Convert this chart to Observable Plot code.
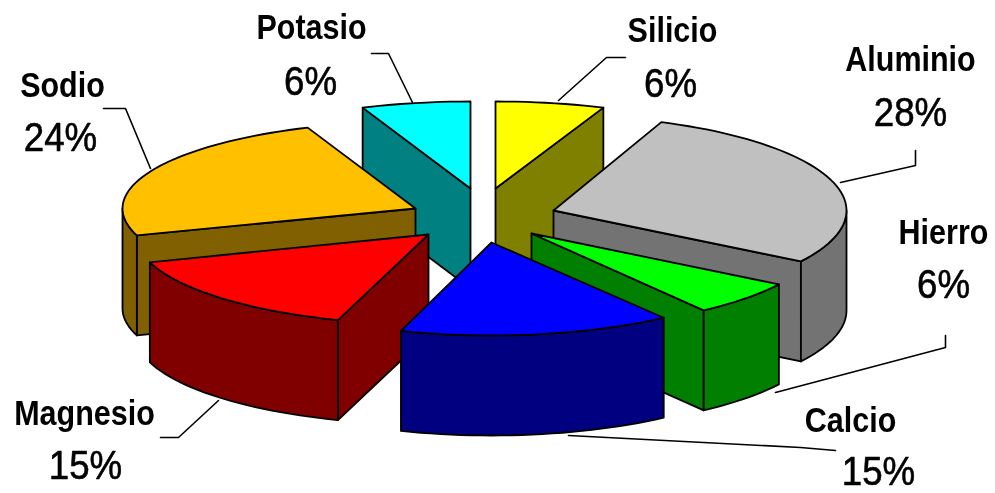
<!DOCTYPE html>
<html><head><meta charset="utf-8">
<style>html,body{margin:0;padding:0;background:#fff}svg{display:block;filter:blur(0.45px)}</style>
<script src="https://cdn.jsdelivr.net/npm/d3@7"></script>
<script src="https://cdn.jsdelivr.net/npm/@observablehq/plot@0.6"></script>
</head><body><script>
// Slices, clockwise from the top of the pie
const names = ["Silicio","Aluminio","Hierro","Calcio","Magnesio","Sodio","Potasio"];
const values = [6,28,6,15,15,24,6];
const topColors = ["#ffff00","#c0c0c0","#00ff00","#0000ff","#ff0000","#ffc000","#00ffff"];
const sideColors = ["#808000","#737373","#007f00","#000080","#800000","#806000","#008080"];
// Exploded apex of each slice, on the chart's pixel-sized x/y scales
const apexX = [495,553,531,491,428,415,470];
const apexY = [188,210,233,242,234,208,188];
const radiusY = [87,95,95,93,90,87,87];
const radiusX = 293, depth = 100;
const drawOrder = [6,0,1,5,2,4,3];
// Labels
const labelX = [672,910,943,850,84,62,311];
const labelY = [30,59,232,420,413,85,27];
const pctX = [670,910,943,878,85,60,310];
const pctY = [84,113,285,472,466,138,82];
const leaderX = [[625,606,558],[915,915,840],[945,945,775],[835,800,568],[160,178,218],[103,125,150],[371,388,412]];
const leaderY = [[57,57,100],[150,165,182],[335,347,392],[450,447,435],[437,437,400],[108,108,168],[53,53,102]];

const total = d3.sum(values);
const ends = d3.cumsum(values).map(v => v / total * 360);
const starts = ends.map((e, i) => e - values[i] / total * 360);
const pt = (i, deg, drop = 0) => {
  const r = deg * Math.PI / 180;
  return {x: apexX[i] + radiusX * Math.sin(r), y: apexY[i] - radiusY[i] * Math.cos(r) + drop};
};
const arc = (i, a, b, drop = 0) => {
  const n = Math.max(2, Math.ceil((b - a) / 2));
  return d3.range(n + 1).map(k => pt(i, a + (b - a) * k / n, drop));
};
const apex = (i, drop = 0) => ({x: apexX[i], y: apexY[i] + drop});

const polys = [];
const add = (pts, fill) => { const id = polys.length ? polys[polys.length - 1].id + 1 : 0; pts.forEach(p => polys.push({...p, id, fill})); };
for (const i of drawOrder) {
  const a = starts[i], b = ends[i];
  if (a > 180) { const e = pt(i, a); add([apex(i), e, {x: e.x, y: e.y + depth}, apex(i, depth)], sideColors[i]); }
  if (b < 180) { const e = pt(i, b); add([apex(i), e, {x: e.x, y: e.y + depth}, apex(i, depth)], sideColors[i]); }
  const w0 = Math.max(a, 90), w1 = Math.min(b, 270);
  if (w1 > w0) add([...arc(i, w0, w1), ...arc(i, w0, w1, depth).reverse()], sideColors[i]);
  add([apex(i), ...arc(i, a, b)], topColors[i]);
}
const leaders = leaderX.flatMap((xs, i) => xs.map((x, k) => ({x, y: leaderY[i][k], id: i})));
const labels = names.map((n, i) => ({t: n, x: labelX[i], y: labelY[i]}));
const pcts = values.map((v, i) => ({t: v + "%", x: pctX[i], y: pctY[i]}));

const chart = Plot.plot({
  width: 995, height: 493, margin: 0,
  x: {domain: [0, 995], range: [0, 995], axis: null},
  y: {domain: [0, 493], range: [0, 493], axis: null},
  style: {background: "#fff"},
  marks: [
    Plot.line(polys, {x: "x", y: "y", z: "id", fill: "fill", stroke: "#000", strokeWidth: 1.8, curve: "linear-closed", strokeLinejoin: "round"}),
    Plot.line(leaders, {x: "x", y: "y", z: "id", stroke: "#000", strokeWidth: 1.6}),
    Plot.text(labels, {x: "x", y: "y", text: "t", fontSize: 27, fontWeight: "bold", fontFamily: "Liberation Sans", fill: "#000", className: "lab"}),
    Plot.text(pcts, {x: "x", y: "y", text: "t", fontSize: 34, fontFamily: "Liberation Sans", fill: "#000", stroke: "#000", strokeWidth: 0.5, className: "pct"})
  ]
});
// The reference's lettering is stretched: taller than the font's natural proportions
const stretch = (sel, sx, sy) => chart.querySelectorAll(sel + " text").forEach(t =>
  t.setAttribute("transform", (t.getAttribute("transform") || "") + ` scale(${sx},${sy})`));
stretch(".lab", 1.13, 1.3);
stretch(".pct", 1.08, 1.18);
document.body.appendChild(chart);
</script></body></html>
